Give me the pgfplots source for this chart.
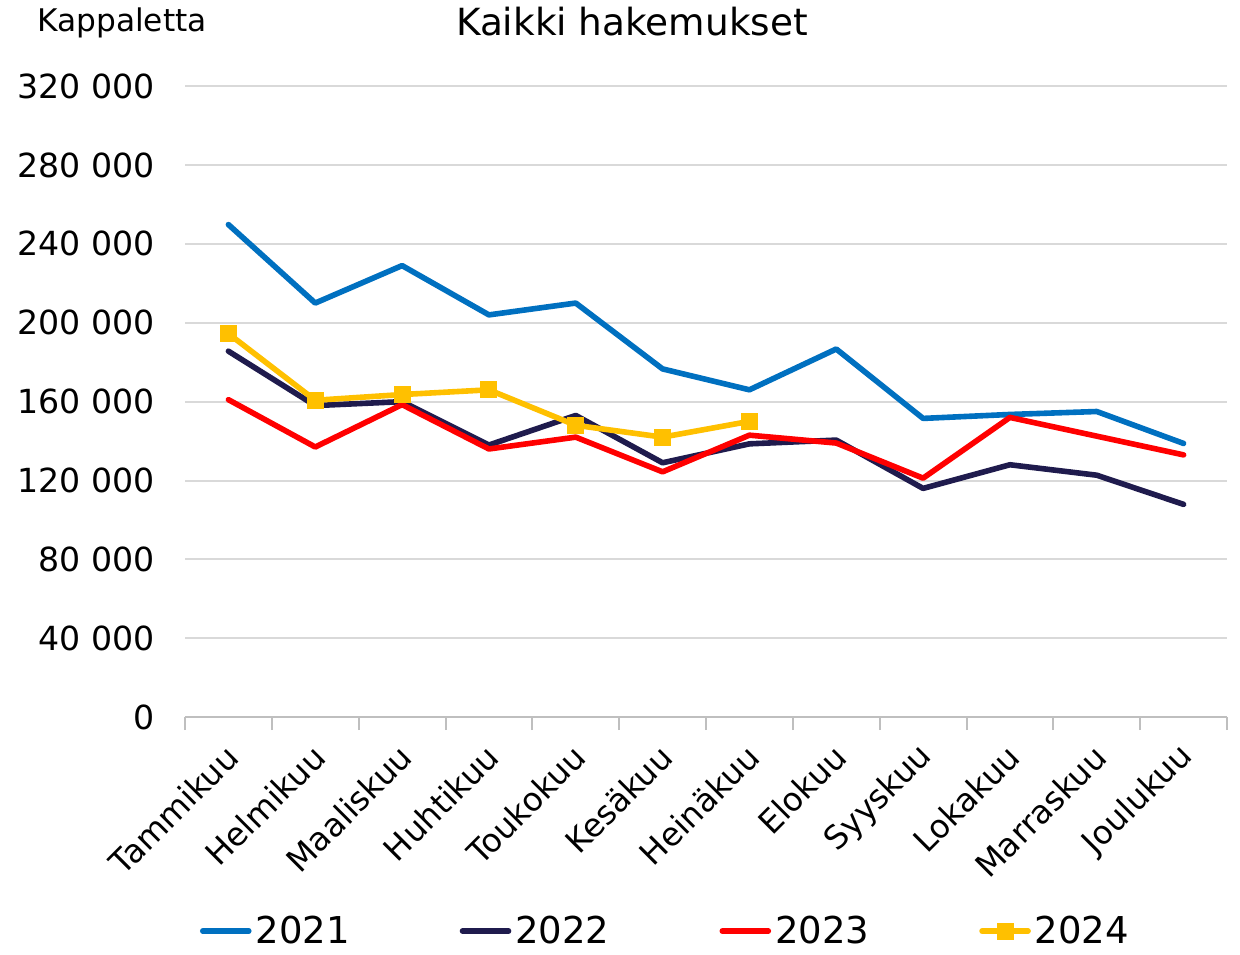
\documentclass[border=0pt]{standalone}
\usepackage{fontspec}
\setmainfont{DejaVu Sans}
\usepackage{pgfplots}
\pgfplotsset{compat=1.18}
\definecolor{c21}{HTML}{0070C0}
\definecolor{c22}{HTML}{1F1B4D}
\definecolor{c23}{HTML}{FF0000}
\definecolor{c24}{HTML}{FFC000}
\definecolor{gridc}{HTML}{D9D9D9}
\definecolor{axc}{HTML}{BFBFBF}
\begin{document}
\begin{tikzpicture}
\begin{axis}[
  scale only axis,
  width=521pt, height=315.5pt,
  xmin=-0.5, xmax=11.5,
  ymin=0, ymax=320000,
  xtick={0,...,11},
  xticklabels={Tammikuu,Helmikuu,Maaliskuu,Huhtikuu,Toukokuu,Kesäkuu,Heinäkuu,Elokuu,Syyskuu,Lokakuu,Marraskuu,Joulukuu},
  minor xtick={-0.5,0.5,...,11.5},
  major tick length=0pt,
  minor tick length=6.5pt,
  tick align=outside,
  ytick={0,40000,...,320000},
  yticklabels={0,40 000,80 000,120 000,160 000,200 000,240 000,280 000,320 000},
  scaled y ticks=false,
  /pgf/number format/assume math mode=true,
  axis x line*=bottom,
  axis y line*=left,
  y axis line style={draw=none},
  x axis line style={draw=axc, line width=1pt},
  every tick/.style={draw=axc, line width=1pt},
  ytick style={draw=none},
  ymajorgrids,
  grid style={draw=gridc, line width=1pt},
  yticklabel style={font=\fontsize{16.6}{19}\selectfont, anchor=east, xshift=-11.5pt},
  xticklabel style={font=\fontsize{16.2}{19}\selectfont, xshift=2pt, yshift=-17pt, rotate=45, anchor=east, inner sep=0pt},
  legend columns=4,
  legend style={draw=none, fill=none, at={(0.4621,-0.339)}, anchor=center,
    font=\fontsize{18.5}{21}\selectfont,
    /tikz/every even column/.append style={column sep=53pt},
    /tikz/every odd column/.append style={column sep=0pt}},
  legend image code/.code={\draw[mark repeat=2,mark phase=2,#1] plot coordinates {(0pt,0pt) (11.5pt,0pt) (23pt,0pt)};},
  every axis plot/.append style={line width=2.8pt, line join=round, line cap=round},
]
\addplot[c21] coordinates {(0,249800) (1,210000) (2,229000) (3,204000) (4,210000) (5,176600) (6,166000) (7,186700) (8,151500) (9,153500) (10,155000) (11,138800)};
\addlegendentry{2021}
\addplot[c22] coordinates {(0,185600) (1,158000) (2,160000) (3,138000) (4,153000) (5,129000) (6,138600) (7,140500) (8,116000) (9,128000) (10,122700) (11,107900)};
\addlegendentry{2022}
\addplot[c23] coordinates {(0,161000) (1,137000) (2,158500) (3,136000) (4,142000) (5,124400) (6,143000) (7,139000) (8,121200) (9,152000) (10,142500) (11,133000)};
\addlegendentry{2023}
\addplot[c24, mark=square*, mark size=4pt, mark options={line width=0pt, fill=c24, draw=c24}] coordinates {(0,194500) (1,160700) (2,163600) (3,166000) (4,148000) (5,142000) (6,150000)};
\addlegendentry{2024}
\end{axis}
\node[font=\fontsize{18.7}{22}\selectfont] at (223.5pt,348pt) {Kaikki hakemukset};
\node[font=\fontsize{15.6}{18}\selectfont] at (-31.5pt,347pt) {Kappaletta};
\useasboundingbox (-92.5pt,-115.5pt) rectangle (527.5pt,358pt);
\end{tikzpicture}
\end{document}
